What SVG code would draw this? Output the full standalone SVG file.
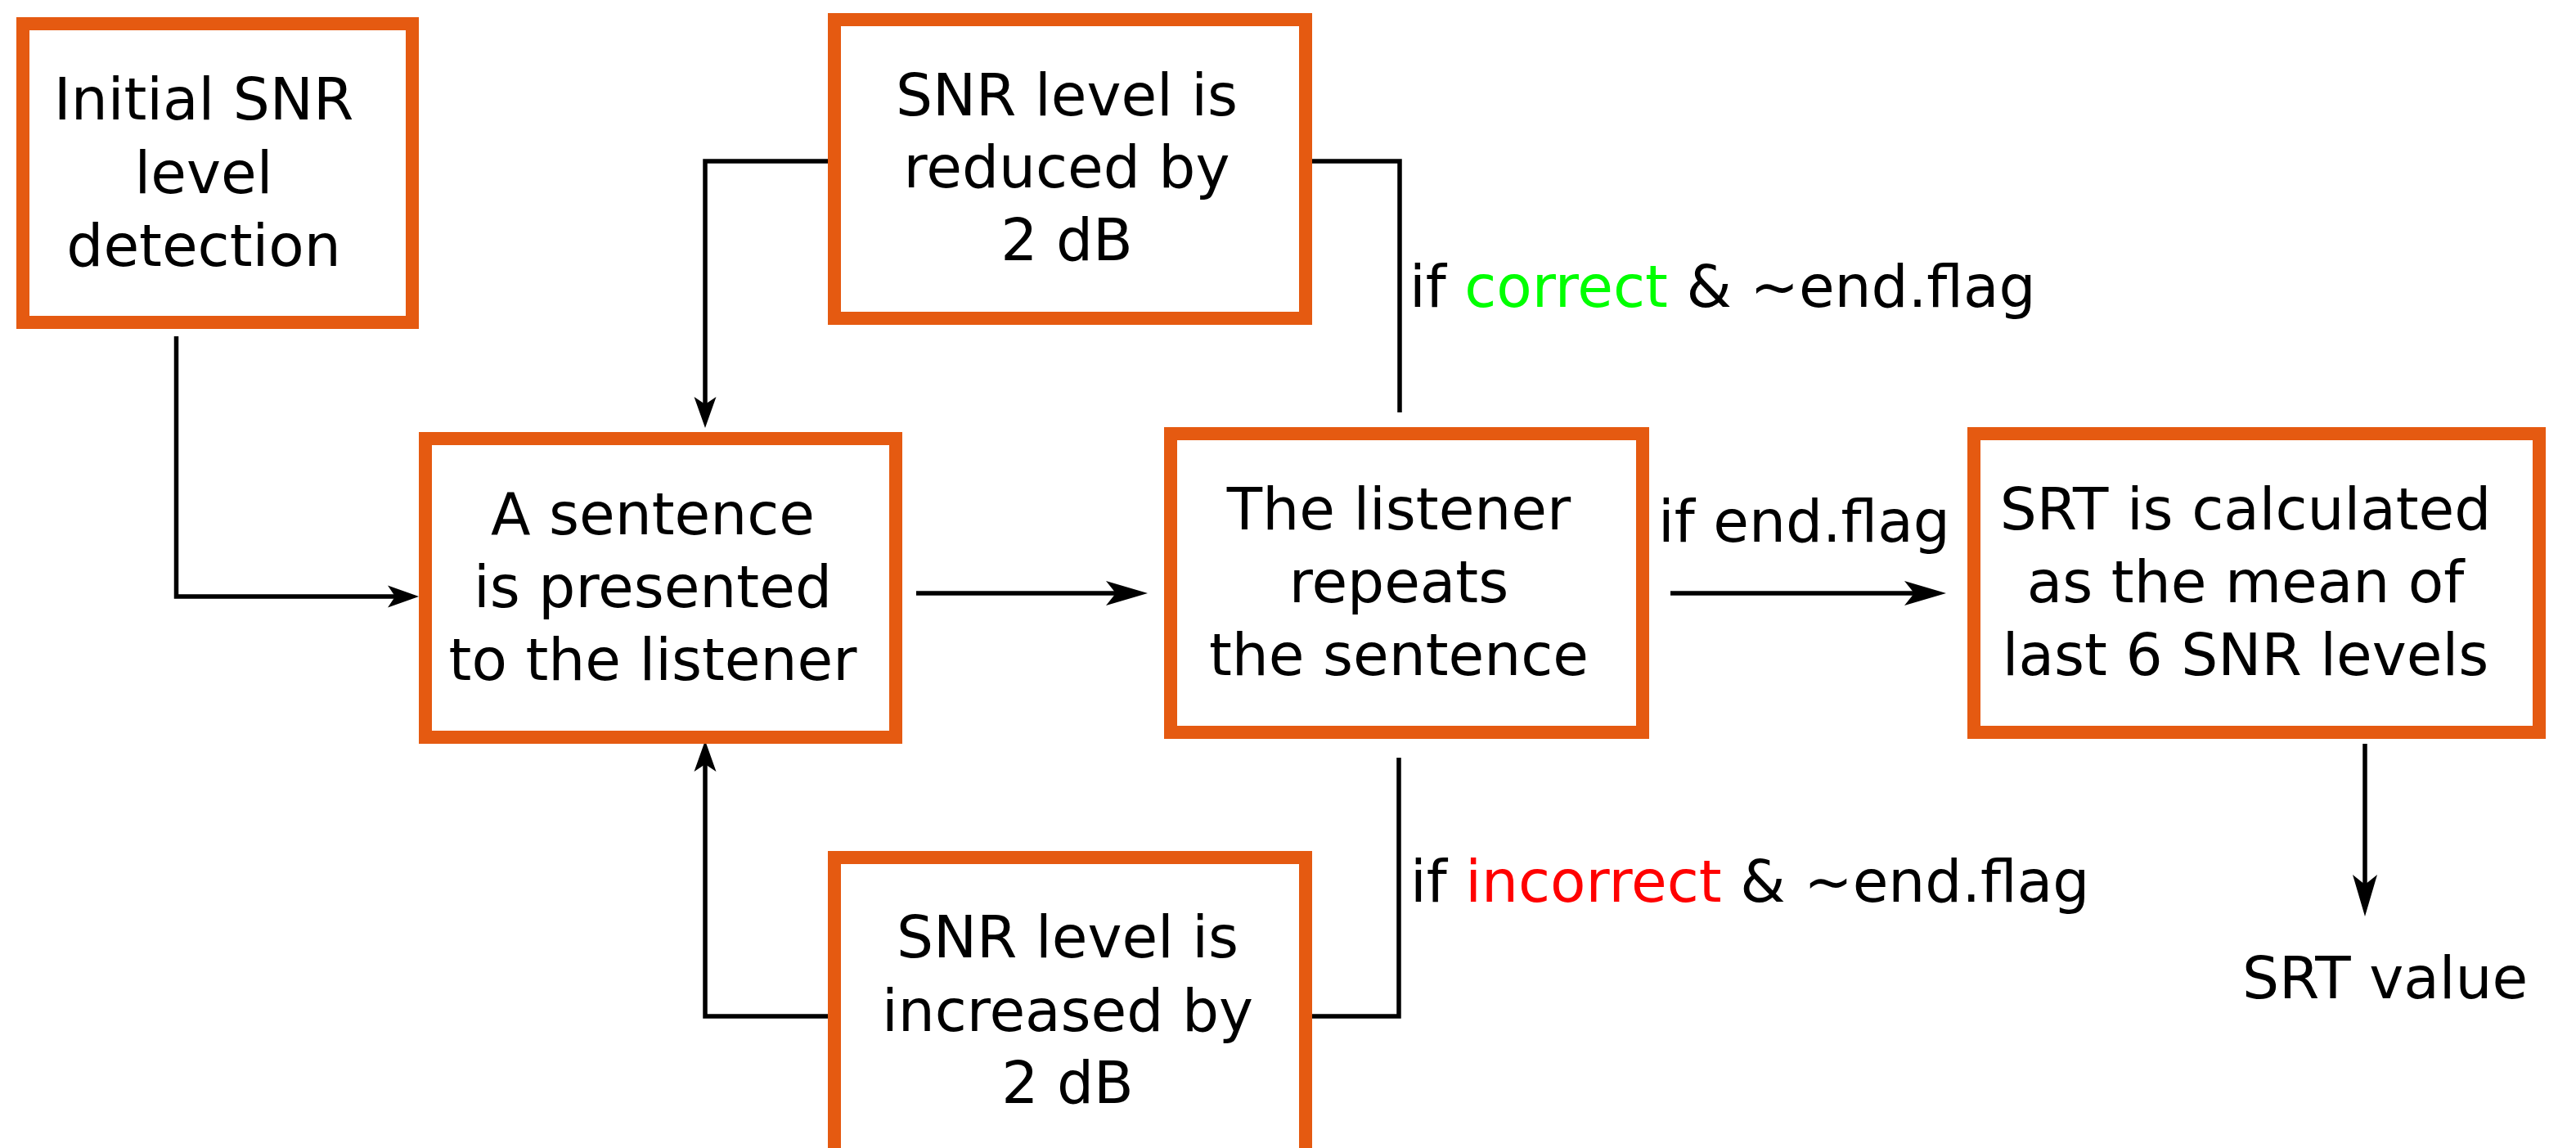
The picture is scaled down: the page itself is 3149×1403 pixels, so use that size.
<svg xmlns="http://www.w3.org/2000/svg" width="3149" height="1403" viewBox="0 0 3149 1403">
<style>
.box{fill:#ffffff;stroke:#e55a11;stroke-width:16}
.t{font-family:"DejaVu Sans",sans-serif;font-size:71px;fill:#000000;text-anchor:middle}
.l{font-family:"DejaVu Sans",sans-serif;font-size:71px;fill:#000000}
.c{fill:none;stroke:#000000;stroke-width:5.5}
</style>
<defs>
<marker id="big" markerUnits="userSpaceOnUse" viewBox="-32 -16 54 32" refX="0" refY="0" markerWidth="54" markerHeight="32" orient="auto">
<path d="M20,0 L-31,-15 L-19,0 L-31,15 Z" fill="#000000"/>
</marker>
<marker id="small" markerUnits="userSpaceOnUse" viewBox="-24 -15 42 30" refX="0" refY="0" markerWidth="42" markerHeight="30" orient="auto">
<path d="M16,0 L-22,-13.5 L-13,0 L-22,13.5 Z" fill="#000000"/>
</marker>
</defs>
<rect width="3149" height="1403" fill="#ffffff"/>
<g id="connectors">
<path class="c" d="M215.5,411 V729 H496" marker-end="url(#small)"/>
<path class="c" d="M1012,197 H862 V507" marker-end="url(#small)"/>
<path class="c" d="M1604,197 H1711 V504"/>
<path class="c" d="M1120,725 H1383" marker-end="url(#big)"/>
<path class="c" d="M2042,725 H2359" marker-end="url(#big)"/>
<path class="c" d="M2891,909 V1100" marker-end="url(#big)"/>
<path class="c" d="M1012,1242 H862 V921" marker-end="url(#small)"/>
<path class="c" d="M1604,1242 H1710 V926"/>
</g>
<g id="labels">
<text class="l" x="1723" y="375">if <tspan fill="#00ff00">correct</tspan> &amp; ~end.flag</text>
<text class="l" x="1724" y="1102">if <tspan fill="#ff0000">incorrect</tspan> &amp; ~end.flag</text>
<text class="l" x="2027" y="662">if end.flag</text>
<text class="l" x="2741" y="1220">SRT value</text>
</g>
<g id="node-initial">
<rect class="box" x="28" y="29" width="476" height="365"/>
<text class="t" x="249" y="146">Initial SNR</text>
<text class="t" x="249" y="236">level</text>
<text class="t" x="249" y="325">detection</text>
</g>
<g id="node-reduced">
<rect class="box" x="1020" y="24" width="576" height="365"/>
<text class="t" x="1304" y="141">SNR level is</text>
<text class="t" x="1304" y="229">reduced by</text>
<text class="t" x="1304" y="318">2 dB</text>
</g>
<g id="node-present">
<rect class="box" x="520" y="536" width="575" height="365"/>
<text class="t" x="798" y="653">A sentence</text>
<text class="t" x="798" y="742">is presented</text>
<text class="t" x="798" y="831">to the listener</text>
</g>
<g id="node-repeat">
<rect class="box" x="1431" y="530" width="577" height="365"/>
<text class="t" x="1710" y="647">The listener</text>
<text class="t" x="1710" y="736">repeats</text>
<text class="t" x="1710" y="825">the sentence</text>
</g>
<g id="node-srt">
<rect class="box" x="2413" y="530" width="691" height="365"/>
<text class="t" x="2745" y="647">SRT is calculated</text>
<text class="t" x="2745" y="736">as the mean of</text>
<text class="t" x="2745" y="825">last 6 SNR levels</text>
</g>
<g id="node-increased">
<rect class="box" x="1020" y="1048" width="576" height="365"/>
<text class="t" x="1305" y="1170">SNR level is</text>
<text class="t" x="1305" y="1260">increased by</text>
<text class="t" x="1305" y="1348">2 dB</text>
</g>
</svg>
